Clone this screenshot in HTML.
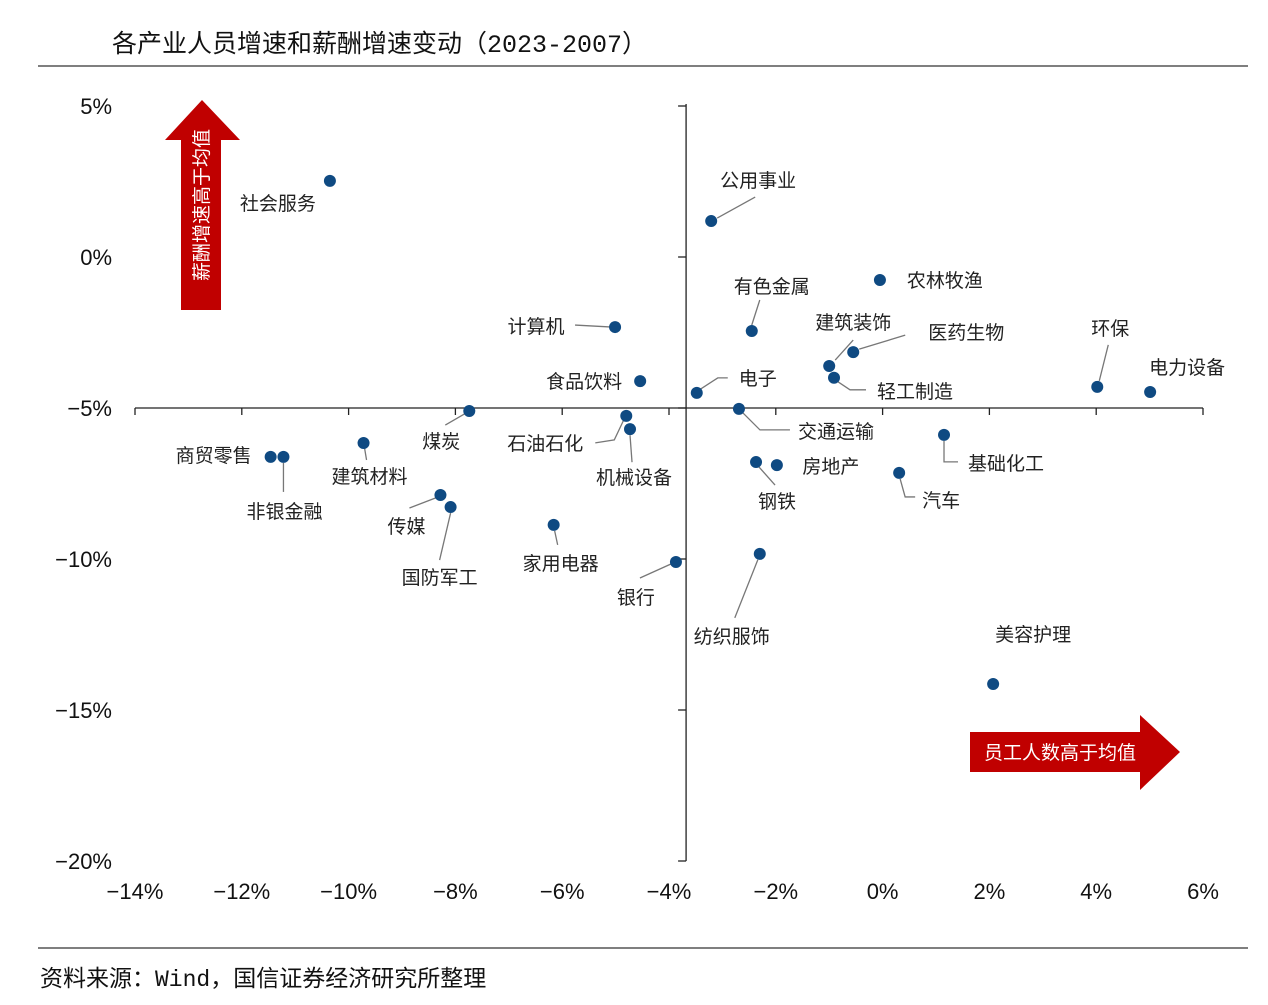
<!DOCTYPE html>
<html><head><meta charset="utf-8">
<style>
body{margin:0;background:#fff;width:1268px;height:1000px;overflow:hidden;font-family:"Liberation Sans","Noto Sans CJK SC",sans-serif;}
svg text{font-family:"Liberation Sans","Noto Sans CJK SC",sans-serif;}
svg tspan.mono{font-family:"Liberation Mono","Noto Sans CJK SC",monospace;}
</style></head>
<body>
<svg width="1268" height="1000">
<text x="112" y="52" font-size="25" fill="#111">各产业人员增速和薪酬增速变动<tspan class="mono">（2023-2007）</tspan></text>
<line x1="38" y1="66" x2="1248" y2="66" stroke="#333" stroke-width="1.2"/>
<line x1="38" y1="948" x2="1248" y2="948" stroke="#333" stroke-width="1.2"/>
<text x="40" y="986" font-size="23" fill="#111">资料来源：<tspan class="mono">Wind</tspan>，国信证券经济研究所整理</text>
<polygon points="165,140 202,100 240,140 221,140 221,310 181,310 181,140" fill="#c00000"/>
<text transform="translate(208,205) rotate(-90)" font-size="19" fill="#fff" text-anchor="middle">薪酬增速高于均值</text>
<polygon points="970,732 1140,732 1140,715 1180,752 1140,790 1140,772 970,772" fill="#c00000"/>
<text x="1060" y="759" font-size="19" fill="#fff" text-anchor="middle">员工人数高于均值</text>
<g id="axes"></g>
<g id="marks"></g>
</svg>
<script>
const names=["社会服务","公用事业","农林牧渔","有色金属","计算机","建筑装饰","医药生物","轻工制造","环保","电力设备","食品饮料","电子","交通运输","煤炭","石油石化","机械设备","商贸零售","非银金融","建筑材料","传媒","国防军工","家用电器","银行","纺织服饰","钢铁","房地产","汽车","基础化工","美容护理"];
const staffGrowth=[-10.35,-3.21,-0.05,-2.45,-5.01,-1.0,-0.55,-0.91,4.02,5.01,-4.54,-3.48,-2.69,-7.74,-4.80,-4.73,-11.46,-11.22,-9.72,-8.28,-8.09,-6.16,-3.87,-2.30,-2.37,-1.98,0.31,1.15,2.07];
const payGrowth=[2.52,1.19,-0.76,-2.45,-2.32,-3.61,-3.15,-4.0,-4.30,-4.47,-4.11,-4.50,-5.03,-5.10,-5.26,-5.70,-6.62,-6.62,-6.16,-7.88,-8.28,-8.87,-10.10,-9.83,-6.79,-6.89,-7.15,-5.89,-14.14];
const xTicks=[-14,-12,-10,-8,-6,-4,-2,0,2,4,6];
const yTicks=[5,0,-5,-10,-15,-20];
const xCross=-3.68, yCross=-5;
// label layout offsets (px, relative to point): text dx,dy and leader polyline
const lab=[[-52,22,null],[47,-41,[[6,-3],[44,-24]]],[65,0,null],[20,-45,[[0,-6],[8,-31]]],[-79,-1,[[-3,0],[-40,-2]]],[24,-44,[[6,-6],[24,-26]]],[113,-20,[[6,-3],[52,-17]]],[81,13,[[4,4],[16,12],[32,12]]],[13,-59,[[2,-6],[11,-42]]],[37,-25,null],[-56,0,null],[61,-15,[[4,-4],[21,-15],[31,-15]]],[97,22,[[4,4],[21,21],[51,21]]],[-28,30,[[-5,3],[-24,14]]],[-81,27,[[-3,5],[-12,24],[-31,27]]],[4,48,[[0,6],[2,33]]],[-57,-2,null],[1,54,[[0,6],[0,35]]],[6,33,[[1,5],[3,17]]],[-34,31,[[-5,3],[-31,13]]],[-11,70,[[0,6],[-11,53]]],[7,38,[[1,6],[4,20]]],[-40,35,[[-5,2],[-36,16]]],[-28,82,[[-2,6],[-25,64]]],[21,39,[[3,5],[19,23]]],[54,1,null],[42,27,[[1,6],[6,24],[16,24]]],[62,28,[[0,6],[0,27],[14,27]]],[40,-50,null]];
const X=v=>882.6+v*53.4, Y=v=>257-v*30.2;
const NS="http://www.w3.org/2000/svg";
function mk(t,a,p){const e=document.createElementNS(NS,t);for(const k in a)e.setAttribute(k,a[k]);p.appendChild(e);return e;}
const ax=document.getElementById('axes'), mg=document.getElementById('marks');
let e=mk('line',{x1:X(-14),x2:X(6),y1:Y(yCross),y2:Y(yCross),stroke:'#222','stroke-width':1.3},ax);


e=mk('line',{x1:X(xCross),x2:X(xCross),y1:Y(5)-2,y2:Y(-20),stroke:'#222','stroke-width':1.3},ax);


xTicks.forEach(t=>{
 mk('line',{x1:X(t),x2:X(t),y1:Y(yCross),y2:Y(yCross)+7,stroke:'#222','stroke-width':1.3},ax);
 const tx=mk('text',{x:X(t),y:899,'font-size':22,'text-anchor':'middle',fill:'#111'},ax);
 tx.textContent=(t<0?'−':'')+Math.abs(t)+'%';
 
 
});
yTicks.forEach(t=>{
 mk('line',{x1:X(xCross)-8,x2:X(xCross),y1:Y(t),y2:Y(t),stroke:'#222','stroke-width':1.3},ax);
 const tx=mk('text',{x:112,y:Y(t)+8,'font-size':22,'text-anchor':'end',fill:'#111'},ax);
 tx.textContent=(t<0?'−':'')+Math.abs(t)+'%';
 
 
});
names.forEach((n,i)=>{
 const px=X(staffGrowth[i]), py=Y(payGrowth[i]), L=lab[i];
 if(L[2]){const pl=mk('polyline',{points:L[2].map(p=>(px+p[0])+','+(py+p[1])).join(' '),fill:'none',stroke:'#777','stroke-width':1.3},mg);
  
  }
 const c=mk('circle',{cx:px,cy:py,r:6,fill:'#0f4a82'},mg);
 
 
 const t=mk('text',{x:px+L[0],y:py+L[1]+7,'font-size':19,'text-anchor':'middle',fill:'#222'},mg);
 t.textContent=n;
 
 
});
</script>
</body></html>
